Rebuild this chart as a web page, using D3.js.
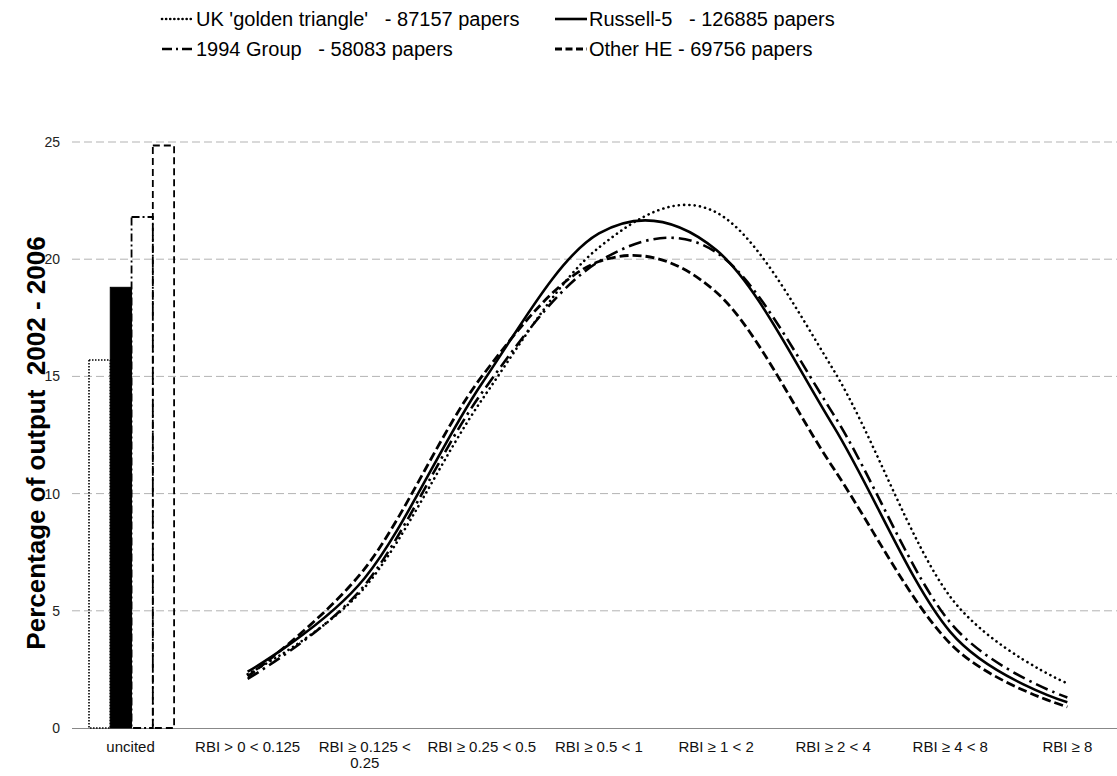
<!DOCTYPE html>
<html>
<head>
<meta charset="utf-8">
<script src="https://cdn.jsdelivr.net/npm/d3@7"></script>
<style>
  html, body { margin: 0; padding: 0; background: #fff; }
  svg { display: block; font-family: "Liberation Sans", Arial, sans-serif; }
  text { white-space: pre; }
</style>
</head>
<body>
<svg id="chart" width="1117" height="776"></svg>
<script>
// ---- data ----
const categories = ["uncited", "RBI > 0 < 0.125", "RBI ≥ 0.125 < 0.25", "RBI ≥ 0.25 < 0.5",
  "RBI ≥ 0.5 < 1", "RBI ≥ 1 < 2", "RBI ≥ 2 < 4", "RBI ≥ 4 < 8", "RBI ≥ 8"];
const seriesNames = ["UK 'golden triangle'   - 87157 papers", "Russell-5   - 126885 papers",
  "1994 Group   - 58083 papers", "Other HE - 69756 papers"];
const goldenTriangle = [15.7, 2.3, 6.0, 14.0, 20.5, 22.0, 15.3, 5.6, 1.9];
const russell5       = [18.8, 2.4, 6.4, 14.7, 21.1, 20.4, 12.9, 4.1, 1.1];
const group1994      = [21.8, 2.1, 6.1, 14.3, 19.9, 20.3, 13.4, 4.5, 1.3];
const otherHE        = [24.85, 2.2, 6.8, 15.0, 19.9, 18.6, 11.1, 3.6, 0.9];
const yTicks = [0, 5, 10, 15, 20, 25];

(function () {
// ---- styles per series ----
const styles = [
  { dash: "0.1,5.2", cap: "round", width: 2.6, barFill: "none", barDash: "1.5,1.5", barWidth: 1.6 },
  { dash: null, cap: "butt", width: 2.6, barFill: "#000", barDash: null, barWidth: 1 },
  { dash: "13,5,2.5,5", cap: "butt", width: 2.6, barFill: "none", barDash: "8,3,2,3", barWidth: 1.8 },
  { dash: "9,4", cap: "butt", width: 2.8, barFill: "none", barDash: "7,4", barWidth: 1.8 }
];
const seriesValues = [goldenTriangle, russell5, group1994, otherHE];

const svg = d3.select("#chart");
const plotLeft = 72, plotBottom = 728, plotTop = 142;
const bandW = 117.1;

const x = d3.scaleBand().domain(categories).range([plotLeft, plotLeft + bandW * categories.length]).padding(0);
const y = d3.scaleLinear().domain([0, 25]).range([plotBottom, plotTop]);
const xs = d3.scaleBand().domain(d3.range(4)).range([17, bandW - 15]).padding(0);

// grid lines
svg.append("g").selectAll("line").data(yTicks.filter(d => d > 0)).join("line")
  .attr("x1", plotLeft).attr("x2", 1117)
  .attr("y1", d => y(d)).attr("y2", d => y(d))
  .attr("stroke", "#b3b3b3").attr("stroke-width", 1).attr("stroke-dasharray", "8,4");

// y axis labels
const yAxis = d3.axisLeft(y).tickValues(yTicks).tickSize(0).tickPadding(0);
const yg = svg.append("g").attr("transform", `translate(${plotLeft - 12},0)`).call(yAxis);
yg.select(".domain").remove();
yg.selectAll("text").attr("font-size", 14).attr("fill", "#222")
  .attr("font-family", "Liberation Sans, Arial, sans-serif");

// x axis
const xAxis = d3.axisBottom(x).tickSize(0).tickPadding(13);
const xg = svg.append("g").attr("transform", `translate(0,${plotBottom})`).call(xAxis);
xg.select(".domain").attr("stroke", "#888").attr("d", `M${plotLeft},0.5H1117`);
xg.selectAll("text").attr("font-size", 15).attr("fill", "#111")
  .attr("font-family", "Liberation Sans, Arial, sans-serif")
  .each(function (d) {
    const t = d3.select(this);
    if (this.getComputedTextLength() > bandW - 4) {
      const words = d.split(" ");
      const last = words.pop();
      t.text(null);
      t.append("tspan").attr("x", 0).attr("dy", "0.71em").text(words.join(" "));
      t.append("tspan").attr("x", 0).attr("dy", "1.1em").text(last);
      t.attr("dy", null);
    }
  });

// bars (uncited)
const barG = svg.append("g");
seriesValues.forEach((vals, i) => {
  const st = styles[i];
  const x0 = x(categories[0]) + xs(i);
  barG.append("rect")
    .attr("x", x0).attr("y", y(vals[0]))
    .attr("width", xs.bandwidth()).attr("height", y(0) - y(vals[0]))
    .attr("fill", st.barFill === "none" ? "#fff" : st.barFill)
    .attr("fill-opacity", st.barFill === "none" ? 0 : 1)
    .attr("stroke", "#000").attr("stroke-width", st.barWidth)
    .attr("stroke-dasharray", st.barDash);
});

// lines
const line = d3.line()
  .x((d, j) => x(categories[j + 1]) + bandW / 2)
  .y(d => y(d))
  .curve(d3.curveCardinal.tension(0));
const lineG = svg.append("g");
seriesValues.forEach((vals, i) => {
  const st = styles[i];
  lineG.append("path").attr("d", line(vals.slice(1)))
    .attr("fill", "none").attr("stroke", "#000")
    .attr("stroke-width", st.width).attr("stroke-linecap", st.cap)
    .attr("stroke-dasharray", st.dash);
});

// y title
svg.append("text")
  .attr("transform", `translate(45,${(plotTop + plotBottom) / 2 + 8}) rotate(-90)`)
  .attr("text-anchor", "middle").attr("font-size", 26).attr("font-weight", "bold")
  .attr("fill", "#000").text("Percentage of output  2002 - 2006");

// legend
const legendPos = [[162, 19], [555, 19], [162, 49], [555, 49]];
const lg = svg.append("g");
[0, 1, 2, 3].forEach((i, k) => {
  const [lx, ly] = legendPos[k];
  const st = styles[i];
  lg.append("line").attr("x1", lx).attr("x2", lx + 32).attr("y1", ly).attr("y2", ly)
    .attr("stroke", "#000").attr("stroke-width", st.width).attr("stroke-linecap", st.cap)
    .attr("stroke-dasharray", i === 0 ? "0.1,4" : (i === 2 ? "10,4,2,4" : (i === 3 ? "7,3.5" : null)));
  lg.append("text").attr("x", lx + 34).attr("y", ly).attr("dy", "0.35em")
    .attr("font-size", 20).attr("fill", "#000").text(seriesNames[i]);
});
})();
</script>
</body>
</html>
